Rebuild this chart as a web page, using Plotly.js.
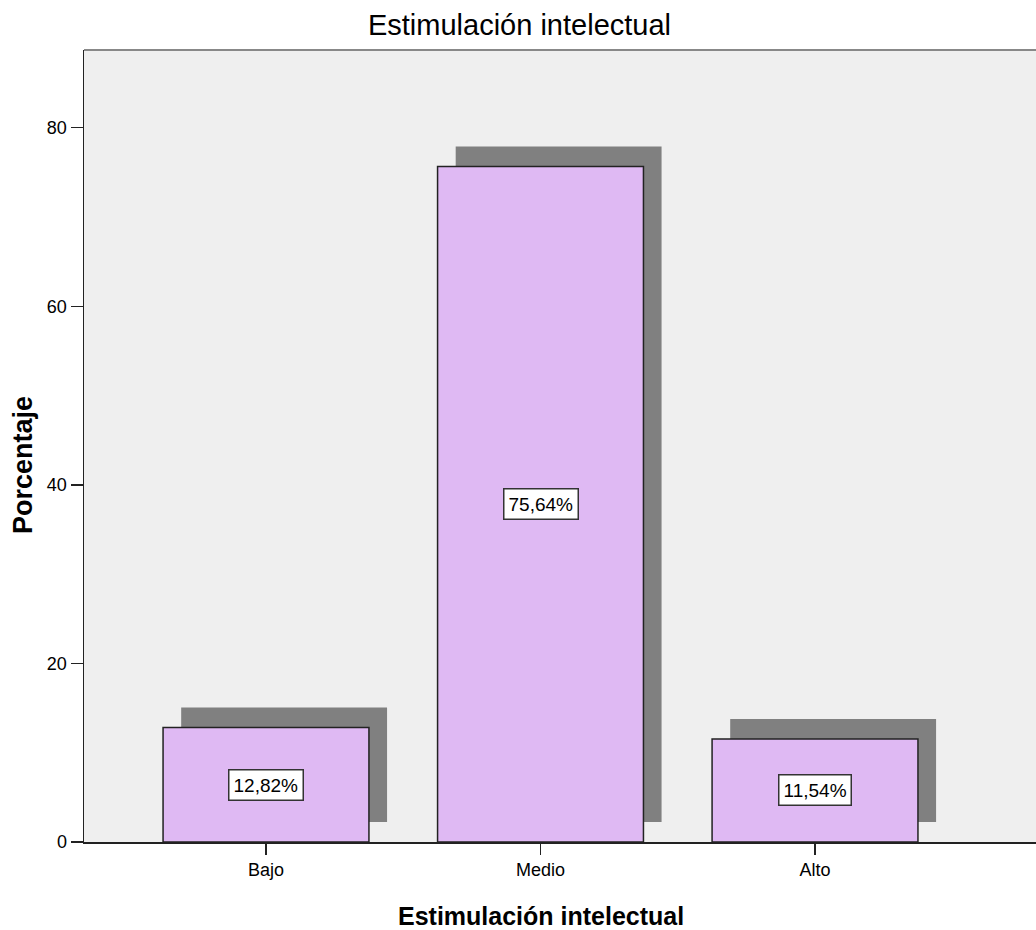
<!DOCTYPE html>
<html>
<head>
<meta charset="utf-8">
<script src="https://cdn.plot.ly/plotly-3.0.1.min.js"></script>
<style>html,body{margin:0;padding:0;background:#fff;}#chart{width:1036px;height:930px;}</style>
</head>
<body>
<div id="chart"></div>
<script>
var categories = ["Bajo", "Medio", "Alto"];
var percentages = [12.82, 75.64, 11.54];
var labels = ["12,82%", "75,64%", "11,54%"];
var yTicks = [0, 20, 40, 60, 80];

var FONT = "Liberation Sans, Arial, sans-serif";
var barW = 0.75;
var shadowDx = 0.066;
var shadowDy = 2.24;

var shadow = {
  type: "bar",
  x: categories,
  y: percentages,
  base: percentages.map(function(){return shadowDy;}),
  width: barW,
  offset: -barW/2 + shadowDx,
  marker: {color: "#808080", line: {width: 0}},
  hoverinfo: "skip",
  showlegend: false
};
var bars = {
  type: "bar",
  x: categories,
  y: percentages,
  width: barW,
  offset: -barW/2,
  marker: {color: "#dfb9f3", line: {color: "#222222", width: 1.5}},
  showlegend: false
};

var annotations = categories.map(function(c, i){
  return {
    x: c, y: percentages[i]/2, xref: "x", yref: "y",
    text: labels[i], showarrow: false,
    font: {family: FONT, size: 19, color: "#000"},
    bgcolor: "#ffffff", bordercolor: "#333333", borderwidth: 1.5, borderpad: 4
  };
});
annotations.push({
  text: "Estimulación intelectual", showarrow: false,
  xref: "paper", yref: "paper", x: (541 - 84) / 952, y: (842 - 916) / 792,
  xanchor: "center", yanchor: "middle",
  font: {family: FONT, size: 25, color: "#000", weight: "bold"}
});
annotations.push({
  text: "Porcentaje", showarrow: false, textangle: -90,
  xref: "paper", yref: "paper", x: (23 - 84) / 952, y: (842 - 465) / 792,
  xanchor: "center", yanchor: "middle",
  font: {family: FONT, size: 27, color: "#000", weight: "bold"}
});

var layout = {
  width: 1036, height: 930,
  margin: {l: 84, r: 0, t: 50, b: 88},
  paper_bgcolor: "#ffffff",
  plot_bgcolor: "#efefef",
  barmode: "overlay",
  title: {text: "Estimulación intelectual", font: {family: FONT, size: 29, color: "#000"},
          x: 519.5 / 1036, xanchor: "center", y: 1 - 25/930, yref: "container", yanchor: "middle"},
  xaxis: {
    type: "category", range: [-0.663, 2.805],
    showline: true, linecolor: "#222", linewidth: 1.5,
    ticks: "outside", ticklen: 11, tickcolor: "#222", tickwidth: 1.5,
    tickfont: {family: FONT, size: 18, color: "#000"},
    showgrid: false, zeroline: false
  },
  yaxis: {
    range: [0, 88.7], tickvals: yTicks, ticktext: yTicks.map(String),
    showline: true, linecolor: "#222", linewidth: 1.5,
    ticks: "outside", ticklen: 12, tickcolor: "#222", tickwidth: 1.5,
    tickfont: {family: FONT, size: 18, color: "#000"},
    showgrid: false, zeroline: false
  },
  shapes: [{type: "line", xref: "paper", yref: "paper", x0: 0, x1: 1, y0: 1, y1: 1,
            line: {color: "#888888", width: 2}}],
  annotations: annotations
};

Plotly.newPlot("chart", [shadow, bars], layout, {displayModeBar: false, staticPlot: true});
</script>
</body>
</html>
